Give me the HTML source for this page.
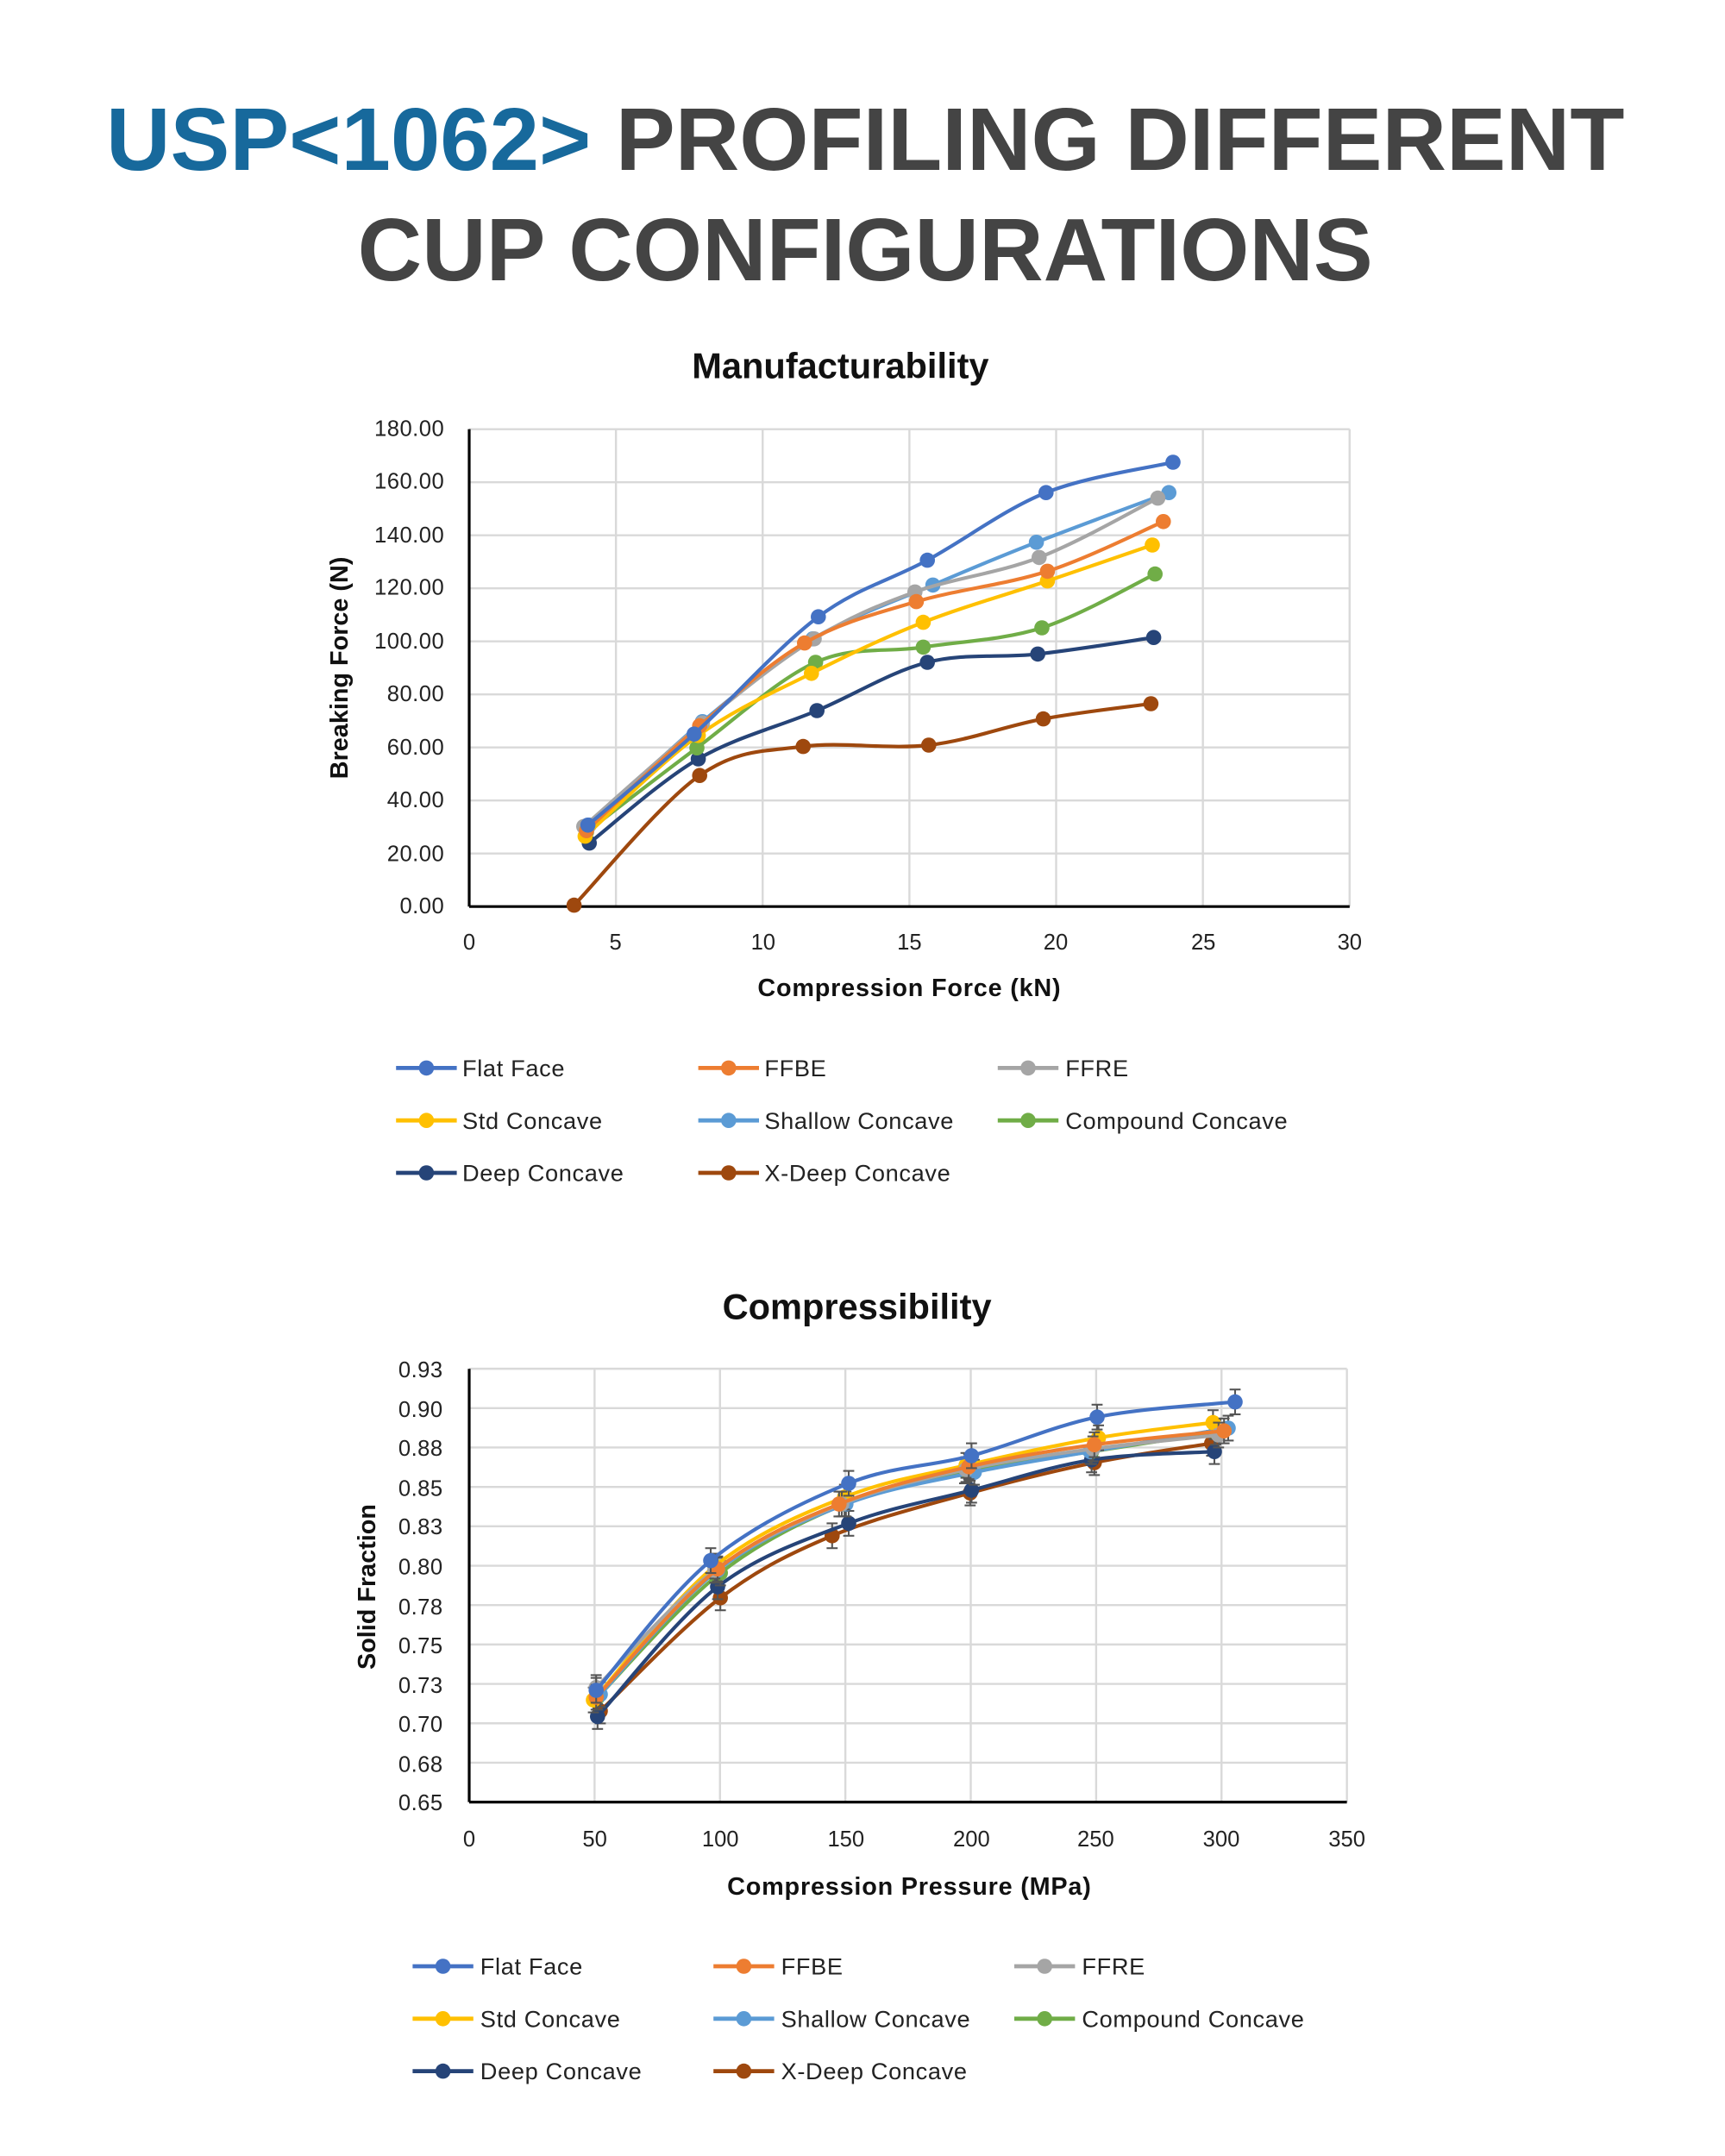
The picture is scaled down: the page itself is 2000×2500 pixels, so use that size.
<!DOCTYPE html>
<html><head><meta charset="utf-8"><style>
html,body{margin:0;padding:0;background:#fff;}
svg{display:block;}
text{font-family:"Liberation Sans","DejaVu Sans",sans-serif;}
</style></head><body>
<svg id="s" width="2000" height="2500" viewBox="0 0 1250 1562.5" preserveAspectRatio="none" xmlns="http://www.w3.org/2000/svg">
<rect width="1250" height="1562.5" fill="#fff"/>
<text x="627" y="123" text-anchor="middle" font-size="64.5" font-weight="bold" fill="#444"><tspan fill="#17699c">USP&lt;1062&gt;</tspan> PROFILING DIFFERENT</text>
<text x="627" y="203" text-anchor="middle" font-size="64.5" font-weight="bold" fill="#444">CUP CONFIGURATIONS</text>

<text x="609" y="274" text-anchor="middle" font-size="26" font-weight="bold" fill="#111">Manufacturability</text>
<g id="g1" stroke="#d9d9d9" stroke-width="1.5"></g>
<g font-size="16" fill="#222" text-anchor="end" letter-spacing="0.3">
<text x="322" y="316">180.00</text><text x="322" y="354">160.00</text><text x="322" y="393">140.00</text><text x="322" y="431">120.00</text><text x="322" y="470">100.00</text><text x="322" y="508">80.00</text><text x="322" y="547">60.00</text><text x="322" y="585">40.00</text><text x="322" y="624">20.00</text><text x="322" y="662">0.00</text>
</g>
<g font-size="16" fill="#222" text-anchor="middle">
<text x="340" y="688">0</text><text x="446" y="688">5</text><text x="553" y="688">10</text><text x="659" y="688">15</text><text x="765" y="688">20</text><text x="872" y="688">25</text><text x="978" y="688">30</text>
</g>
<text x="659" y="722" text-anchor="middle" font-size="18" font-weight="bold" fill="#111" letter-spacing="0.5">Compression Force (kN)</text>
<text transform="translate(252,484) rotate(-90)" text-anchor="middle" font-size="18" font-weight="bold" fill="#111">Breaking Force (N)</text>
<g id="d1"></g>

<text x="621" y="956" text-anchor="middle" font-size="26" font-weight="bold" fill="#111">Compressibility</text>
<g id="g2" stroke="#d9d9d9" stroke-width="1.5"></g>
<g font-size="16" fill="#222" text-anchor="end" letter-spacing="0.3">
<text x="321" y="998">0.93</text><text x="321" y="1027">0.90</text><text x="321" y="1055">0.88</text><text x="321" y="1084">0.85</text><text x="321" y="1112">0.83</text><text x="321" y="1141">0.80</text><text x="321" y="1170">0.78</text><text x="321" y="1198">0.75</text><text x="321" y="1227">0.73</text><text x="321" y="1255">0.70</text><text x="321" y="1284">0.68</text><text x="321" y="1312">0.65</text>
</g>
<g font-size="16" fill="#222" text-anchor="middle">
<text x="340" y="1338">0</text><text x="431" y="1338">50</text><text x="522" y="1338">100</text><text x="613" y="1338">150</text><text x="704" y="1338">200</text><text x="794" y="1338">250</text><text x="885" y="1338">300</text><text x="976" y="1338">350</text>
</g>
<text x="659" y="1373" text-anchor="middle" font-size="18" font-weight="bold" fill="#111" letter-spacing="0.5">Compression Pressure (MPa)</text>
<text transform="translate(272,1150) rotate(-90)" text-anchor="middle" font-size="18" font-weight="bold" fill="#111">Solid Fraction</text>
<g id="d2"></g>

<g font-size="17" fill="#222" letter-spacing="0.4">
<text x="335" y="780">Flat Face</text><text x="554" y="780">FFBE</text><text x="772" y="780">FFRE</text>
<text x="335" y="818">Std Concave</text><text x="554" y="818">Shallow Concave</text><text x="772" y="818">Compound Concave</text>
<text x="335" y="856">Deep Concave</text><text x="554" y="856">X-Deep Concave</text>
<text x="348" y="1431">Flat Face</text><text x="566" y="1431">FFBE</text><text x="784" y="1431">FFRE</text>
<text x="348" y="1469">Std Concave</text><text x="566" y="1469">Shallow Concave</text><text x="784" y="1469">Compound Concave</text>
<text x="348" y="1507">Deep Concave</text><text x="566" y="1507">X-Deep Concave</text>
</g>
<g id="leg"></g>
</svg>
<script>
var NS="http://www.w3.org/2000/svg";
function el(p,t,a){var e=document.createElementNS(NS,t);for(var k in a)e.setAttribute(k,a[k]);p.appendChild(e);return e;}
var C=["#4472C4","#ED7D31","#A5A5A5","#FFC000","#5B9BD5","#70AD47","#264478","#9E480E"];
var g1=document.getElementById("g1");
for(var i=1;i<=6;i++){var x=340+i*106.33;el(g1,"line",{x1:x,y1:311,x2:x,y2:657});}
for(var j=1;j<=9;j++){var y=657-j*38.44;el(g1,"line",{x1:340,y1:y,x2:978,y2:y});}
el(g1,"line",{x1:340,y1:311,x2:340,y2:657,stroke:"#000","stroke-width":2});
el(g1,"line",{x1:340,y1:657,x2:978,y2:657,stroke:"#000","stroke-width":2});
var g2=document.getElementById("g2");
for(var i=1;i<=7;i++){var x=340+i*90.86;el(g2,"line",{x1:x,y1:992,x2:x,y2:1306});}
for(var j=1;j<=11;j++){var y=1306-j*28.55;el(g2,"line",{x1:340,y1:y,x2:976,y2:y});}
el(g2,"line",{x1:340,y1:992,x2:340,y2:1306,stroke:"#000","stroke-width":2});
el(g2,"line",{x1:340,y1:1306,x2:976,y2:1306,stroke:"#000","stroke-width":2});
function path(p){var d="M"+p[0][0]+","+p[0][1];for(var i=0;i<p.length-1;i++){var p0=p[i-1]||p[i],p1=p[i],p2=p[i+1],p3=p[i+2]||p2;
d+=" C"+(p1[0]+(p2[0]-p0[0])/6)+","+(p1[1]+(p2[1]-p0[1])/6)+" "+(p2[0]-(p3[0]-p1[0])/6)+","+(p2[1]-(p3[1]-p1[1])/6)+" "+p2[0]+","+p2[1];}return d;}
var D1=[
[[426,598],[503,532],[593,447],[672,406],[758,357],[850,335]],
[[425,602],[507,526],[583,466],[664,436],[759,414],[843,378]],
[[423,599],[509,524],[590,463],[663,429],[753,404],[839,361]],
[[424,606],[506,533],[588,488],[669,451],[759,421],[835,395]],
[[427,598],[509,523],[589,463],[676,424],[751,393],[847,357]],
[[425,603],[505,542],[591,480],[669,469],[755,455],[837,416]],
[[427,611],[506,550],[592,515],[672,480],[752,474],[836,462]],
[[416,656],[507,562],[582,541],[673,540],[756,521],[834,510]]];
var D2=[
[[432,1225],[515,1131],[615,1075],[704,1055],[795,1027],[895,1016]],
[[432,1230],[520,1137],[608,1090],[702,1063],[793,1047],[887,1037]],
[[432,1223],[518,1138],[610,1090],[700,1065],[792,1050],[883,1040]],
[[430,1232],[518,1135],[612,1085],[700,1062],[796,1042],[879,1031]],
[[435,1228],[520,1138],[613,1090],[706,1067],[790,1052],[890,1035]],
[[433,1230],[522,1140],[612,1090],[699,1066],[791,1052],[881,1038]],
[[433,1244],[520,1150],[615,1104],[704,1080],[791,1058],[880,1052]],
[[435,1240],[522,1158],[603,1113],[703,1082],[793,1060],[878,1046]]];
function draw(id,D,eb){var g=document.getElementById(id);
for(var s=D.length-1;s>=0;s--){var p=D[s];
el(g,"path",{d:path(p),fill:"none",stroke:C[s],"stroke-width":2.6});
p.forEach(function(q){if(eb){el(g,"line",{x1:q[0],y1:q[1]-9,x2:q[0],y2:q[1]+9,stroke:"#555","stroke-width":1.3});
el(g,"line",{x1:q[0]-4,y1:q[1]-9,x2:q[0]+4,y2:q[1]-9,stroke:"#555","stroke-width":1.3});
el(g,"line",{x1:q[0]-4,y1:q[1]+9,x2:q[0]+4,y2:q[1]+9,stroke:"#555","stroke-width":1.3});}
el(g,"circle",{cx:q[0],cy:q[1],r:5.5,fill:C[s]});});}}
draw("d1",D1,false);draw("d2",D2,true);
var L=document.getElementById("leg");
function leg(xs,ys){var k=0;for(var r=0;r<3;r++)for(var c=0;c<3;c++){if(k>7)break;var x=xs[c],y=ys[r];
el(L,"line",{x1:x,y1:y,x2:x+44,y2:y,stroke:C[k],"stroke-width":3});el(L,"circle",{cx:x+22,cy:y,r:5.5,fill:C[k]});k++;}}
leg([287,506,723],[774,812,850]);leg([299,517,735],[1425,1463,1501]);
</script>
</body></html>
